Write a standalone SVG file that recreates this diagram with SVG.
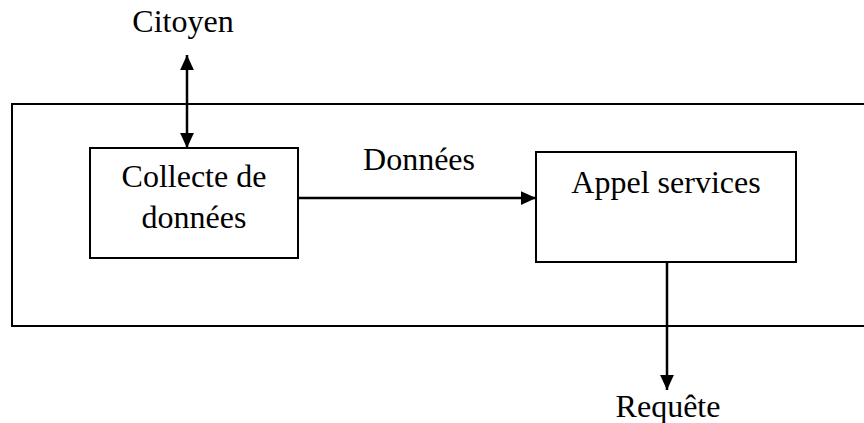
<svg xmlns="http://www.w3.org/2000/svg" width="864" height="423" viewBox="0 0 864 423">
<style>
.box{fill:#fff;stroke:#000;stroke-width:2}
.frame{fill:none;stroke:#000;stroke-width:2}
.lbl{font-size:32px;fill:#000;text-anchor:middle}
.conn{stroke:#000;stroke-width:2.5;fill:none}
</style>
<defs>
<marker id="ah" viewBox="0 0 10 10" refX="10" refY="5" markerWidth="6" markerHeight="5.5" orient="auto-start-reverse" markerUnits="strokeWidth" preserveAspectRatio="none">
<path d="M0,0 L10,5 L0,10 Z" fill="#000"/>
</marker>
</defs>
<g font-family="'Liberation Serif', 'DejaVu Serif', serif">
<g id="system">
<rect class="frame" x="12" y="104" width="870" height="222"/>
</g>
<g id="collecte">
<rect class="box" x="90" y="148" width="208" height="110"/>
<text class="lbl" x="194" y="187">Collecte de</text>
<text class="lbl" x="194" y="228">données</text>
</g>
<g id="appel">
<rect class="box" x="536" y="152" width="260" height="110"/>
<text class="lbl" x="666" y="193">Appel services</text>
</g>
<g id="citoyen">
<text class="lbl" x="183" y="32">Citoyen</text>
</g>
<g id="requete">
<text class="lbl" x="668" y="417">Requête</text>
</g>
<g id="connectors">
<line class="conn" x1="187" y1="55" x2="187" y2="148" marker-start="url(#ah)" marker-end="url(#ah)"/>
<line class="conn" x1="298" y1="198" x2="536" y2="198" marker-end="url(#ah)"/>
<text class="lbl" x="419" y="170">Données</text>
<line class="conn" x1="667" y1="262" x2="667" y2="390" marker-end="url(#ah)"/>
</g>
</g>
</svg>
